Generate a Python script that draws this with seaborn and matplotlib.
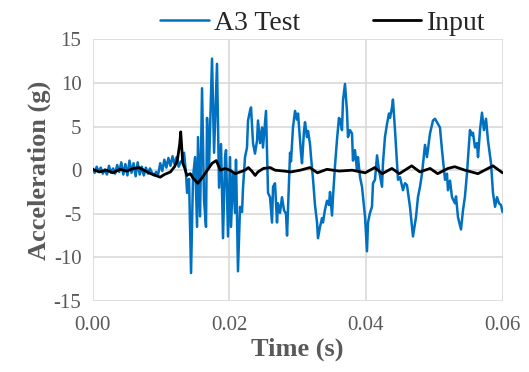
import numpy as np
import pandas as pd
import matplotlib
matplotlib.use('Agg')
import matplotlib.pyplot as plt
import seaborn as sns

# A3 Test response (time in ms, acceleration in g)
test_time_ms = [
    0.0, 0.3, 0.6, 0.9, 1.2, 1.5, 1.8, 2.1, 2.4, 2.7, 3.0, 3.3, 3.6, 3.9, 4.2,
    4.5, 4.8, 5.1, 5.4, 5.7, 6.0, 6.3, 6.6, 6.9, 7.2, 7.5, 7.8, 8.1, 8.4, 8.7,
    9.0, 9.3, 9.6, 9.9, 10.2, 10.5, 10.8, 11.1, 11.4, 11.7, 12.0, 12.3, 12.6,
    12.9, 13.09, 13.39, 13.68, 13.83, 14.12, 14.41, 14.70, 15.00, 15.29, 15.43,
    15.73, 16.02, 16.31, 16.60, 16.75, 17.04, 17.48, 17.78, 18.21, 18.51, 18.80,
    19.09, 19.39, 19.53, 19.82, 20.12, 20.26, 20.56, 20.85, 20.99, 21.28, 21.58,
    21.87, 22.02, 22.31, 22.60, 22.75, 23.04, 23.19, 23.48, 23.77, 24.07, 24.21,
    24.51, 24.80, 24.94, 25.38, 25.53, 25.68, 25.97, 26.26, 26.41, 26.70, 26.99,
    27.14, 27.43, 27.72, 28.02, 28.31, 28.46, 28.75, 28.90, 29.04, 29.33, 29.63,
    29.92, 30.07, 30.21, 30.50, 30.65, 30.94, 31.09, 31.38, 31.53, 31.82, 31.97,
    32.26, 32.55, 32.85, 32.99, 33.28, 33.58, 33.72, 34.02, 34.31, 34.60, 34.75,
    35.04, 35.19, 35.48, 35.77, 36.06, 36.21, 36.50, 36.65, 36.94, 37.23, 37.38,
    37.67, 37.97, 38.11, 38.40, 38.70, 38.84, 39.14, 39.43, 39.58, 39.87, 40.16,
    40.31, 40.60, 40.89, 41.04, 41.33, 41.63, 41.92, 42.36, 42.50, 42.79, 43.09,
    43.38, 43.53, 43.82, 43.96, 44.26, 44.55, 44.70, 44.99, 45.43, 45.72, 46.01,
    46.45, 46.89, 47.33, 47.62, 47.92, 48.21, 48.65, 48.94, 49.38, 49.82, 50.11,
    50.41, 50.84, 51.14, 51.58, 51.87, 52.01, 52.31, 52.60, 53.04, 53.19, 53.48,
    53.92, 54.21, 54.50, 54.79, 55.23, 55.53, 55.67, 55.97, 56.26, 56.41, 56.70,
    56.99, 57.28, 57.58, 57.87, 58.31, 58.60, 58.90, 59.19, 59.48, 59.77, 60.0,
]
test_accel = [
    0.2, -0.3, 0.4, -0.2, 0.3, -0.4, 0.1, -0.5, 0.5, -0.3, 0.2, -0.4, 0.6, -0.2,
    0.9, -0.5, 0.7, -0.6, 1.1, -0.3, 0.8, -0.7, 0.9, -0.5, 0.4, -0.6, 0.3, -0.4,
    0.2, -0.3, -0.6, -0.2, -0.5, 0.8, -0.1, 1.2, 0.3, 1.4, 0.5, 1.6, 0.7, 1.5,
    0.4, 1.0, 1.0, 2.0, -0.5, -2.6, -1.0, -11.8, -0.8, 1.5, -6.5, 3.8,
    -5.3, 9.4, -3.4, -6.5, 6.0, 0.3, 12.8, 2.0, 12.2, -2.0, 3.0,
    -7.8, 1.5, 2.3, -7.6, 1.5, -6.5, -0.3, -4.9, 1.2, -11.6, -4.2,
    -4.8, -2.0, 1.5, 2.6, 5.7, 6.8, 7.2, 3.1, 1.9, 3.4, 5.7,
    3.1, 4.9, 2.6, 6.8, 1.9, -2.6, -3.1, -6.0, -1.9, -1.5, -6.0,
    -3.8, -4.9, -3.1, -4.6, -5.0, -7.5, -1.0, 2.0, 1.0, 4.9, 6.8,
    5.8, 6.5, 5.0, 2.0, 0.8, 4.5, 5.5, 3.8, 4.5, 3.0, 1.5,
    -1.0, -4.0, -6.0, -7.8, -6.5, -5.5, -6.0, -4.5, -3.5, -4.0, -2.5,
    -5.2, -3.0, 0.5, 3.5, 6.0, 5.8, 4.6, 8.0, 9.9, 6.8, 3.8,
    4.6, 4.2, 1.1, 2.3, 0.0, 1.5, -0.8, -1.9, -3.1, -5.3, -9.3,
    -6.0, -4.9, -4.2, -1.5, -1.1, 1.7, 0.0, -1.9, 0.8, 3.8, 5.3,
    6.5, 6.0, 7.2, 8.1, 4.6, 0.8, -1.1, -0.8, -2.3, -1.5, -1.7,
    -4.2, -7.6, -5.4, -3.1, -1.9, -0.4, 2.9, 1.5, 4.2, 5.7, 5.9,
    5.5, 4.9, 2.3, -1.1, -0.4, -2.3, -1.2, -3.1, -3.8, -3.0, -5.4,
    -6.8, -4.6, -3.0, -0.4, 4.6, 4.0, 4.3, 2.6, 3.1, 1.5, 4.6,
    6.6, 4.6, 5.9, 3.4, 0.8, -2.6, -4.2, -3.1, -3.8, -4.0, -4.8,
]

# Input excitation
input_time_ms = [
    0.0, 1.0, 2.0, 3.0, 4.0, 5.0, 6.0, 6.8, 7.5, 8.5, 9.9, 10.5, 11.4, 12.0,
    12.4, 12.75, 12.9, 13.2, 13.5, 13.8, 14.3, 14.7, 15.4, 16.0, 16.8, 17.5,
    18.1, 18.7, 19.4, 20.1, 20.9, 21.6, 22.3, 22.8, 23.3, 23.8, 24.2, 25.0,
    26.0, 26.7, 28.0, 29.0, 30.4, 31.8, 32.9, 34.3, 36.1, 38.0, 39.9, 41.3,
    42.4, 43.8, 44.9, 46.7, 47.9, 49.4, 50.5, 52.0, 53.0, 54.5, 56.4, 58.6, 60.0,
]
input_accel = [
    0.1, -0.2, 0.0, -0.3, 0.1, -0.1, 0.2, 0.3, 0.0, -0.4, -0.8, -0.5, -0.2, 0.4,
    1.1, 3.0, 4.4, 0.8, 0.2, -0.6, -0.4, -0.9, -1.5, -0.9, 0.0, 0.8,
    1.1, 0.0, 0.2, 0.0, -0.4, -0.2, 0.0, 0.3, -0.1, -0.6, -0.2, 0.2,
    0.3, 0.0, -0.1, -0.2, 0.0, 0.3, -0.3, 0.1, -0.1, 0.0, -0.3, 0.3,
    -0.4, 0.2, -0.4, 0.5, -0.2, 0.2, -0.4, 0.2, 0.4, 0.0, -0.4, 0.5, -0.3,
]

test_df = pd.DataFrame({'t': np.array(test_time_ms) / 1000, 'a': test_accel})
input_df = pd.DataFrame({'t': np.array(input_time_ms) / 1000, 'a': input_accel})

sns.set_theme(style='white')
plt.rcParams['font.family'] = ['Liberation Serif', 'DejaVu Serif']
plt.rcParams['axes.unicode_minus'] = False

fig = plt.figure(figsize=(5.29, 3.72), dpi=100)
ax = fig.add_axes([0.175, 0.191, 0.775, 0.703])

sns.lineplot(data=test_df, x='t', y='a', ax=ax, color='#0070C0', linewidth=1.8,
             sort=False, estimator=None, label='A3 Test')
sns.lineplot(data=input_df, x='t', y='a', ax=ax, color='black', linewidth=2.0,
             sort=False, estimator=None, label='Input')

ax.set_xlim(0, 0.06)
ax.set_ylim(-15, 15)
ax.set_xticks([0.00, 0.02, 0.04, 0.06])
ax.set_xticklabels(['0.00', '0.02', '0.04', '0.06'])
ax.set_yticks([-15, -10, -5, 0, 5, 10, 15])
ax.grid(True, color='#D9D9D9', linewidth=1.2)
ax.set_axisbelow(True)
for s in ax.spines.values():
    s.set_visible(False)
ax.tick_params(axis='x', length=0, labelsize=15, labelcolor='#595959', pad=11)
ax.tick_params(axis='y', length=0, labelsize=15, labelcolor='#595959', pad=8)

ax.set_xlabel('Time (s)', fontsize=19, fontweight='bold', color='#595959', labelpad=2)
ax.set_ylabel('Acceleration (g)', fontsize=19, fontweight='bold', color='#595959', labelpad=2)

ax.legend_.remove()
handles, labels = ax.get_legend_handles_labels()
fig.legend(handles, labels, loc='upper center', bbox_to_anchor=(0.61, 1.04), ncol=2,
           frameon=False, fontsize=20, handlelength=1.75, handletextpad=0.2,
           columnspacing=2.6)

fig.savefig('out.png', dpi=100)
